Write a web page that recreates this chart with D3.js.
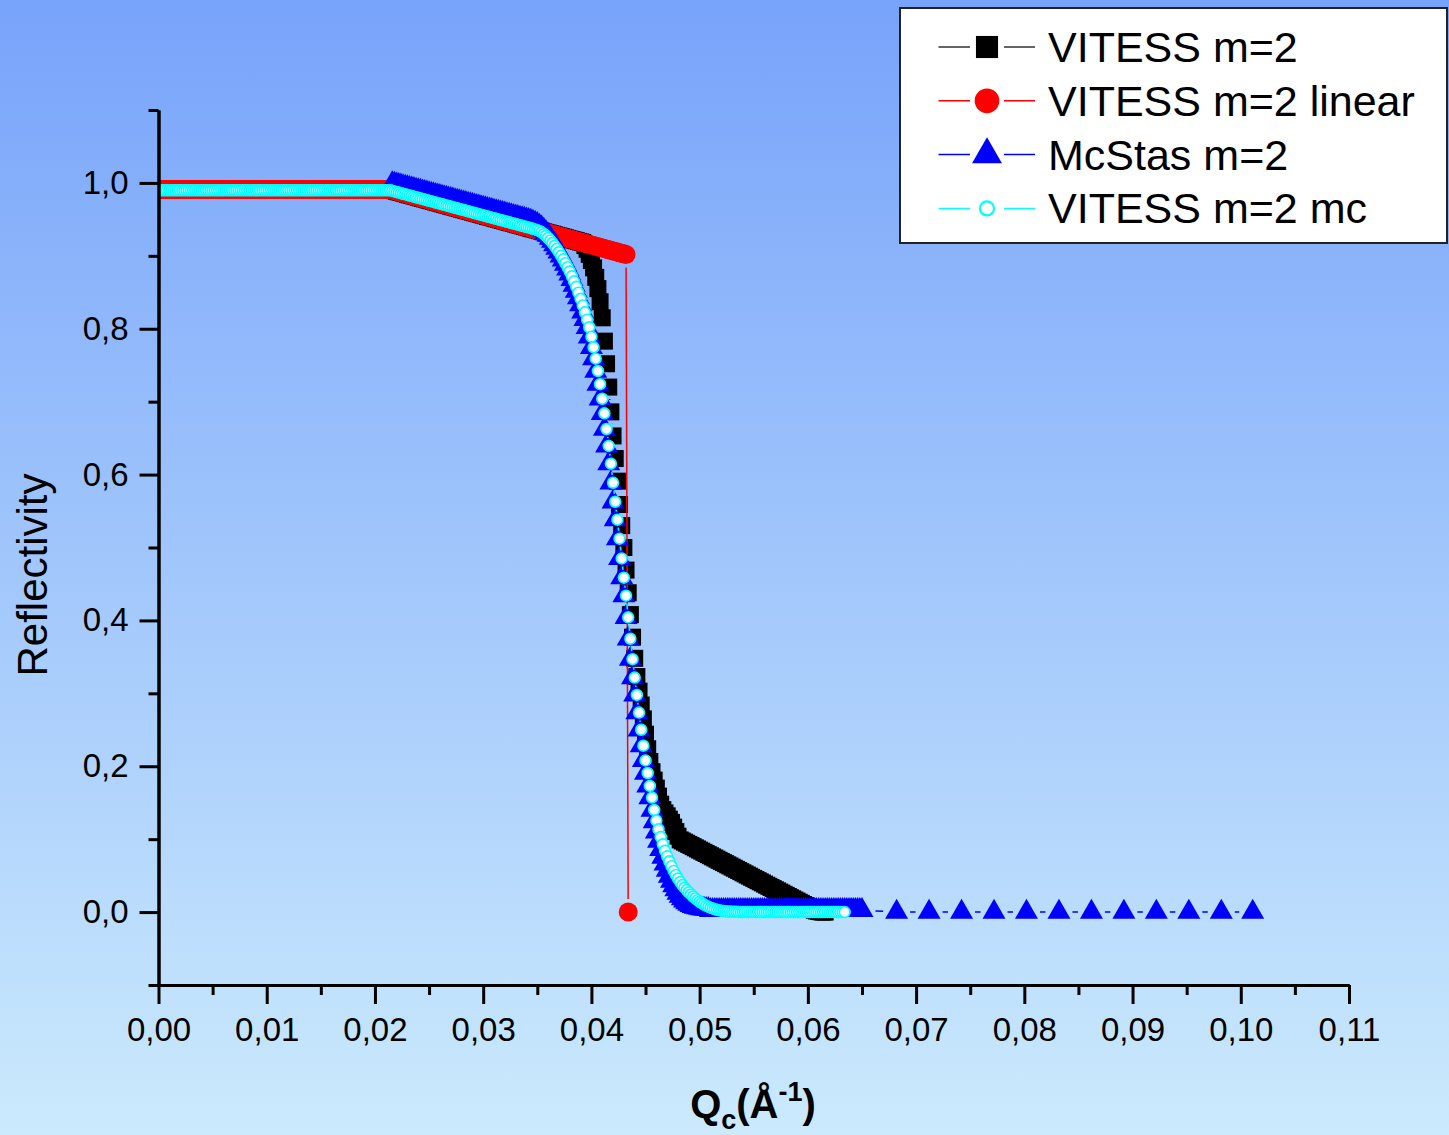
<!DOCTYPE html>
<html>
<head>
<meta charset="utf-8">
<script src="https://cdn.jsdelivr.net/npm/d3@7"></script>
<style>
  html, body { margin: 0; padding: 0; background: #ffffff; }
  svg { display: block; }
</style>
</head>
<body>
<svg id="chart" width="1449" height="1135"></svg>
<script>
// ---------------------------------------------------------------
// Reflectivity curves of an m=2 supermirror, Qc in 1/Å
// ---------------------------------------------------------------

// Q grid shared by the dense VITESS curves (Å^-1)
const qGrid = [
  0.0000,0.0002,0.0004,0.0006,0.0008,0.0010,0.0012,0.0014,0.0016,0.0018,
  0.0020,0.0022,0.0024,0.0026,0.0028,0.0030,0.0032,0.0034,0.0036,0.0038,
  0.0040,0.0042,0.0044,0.0046,0.0048,0.0050,0.0052,0.0054,0.0056,0.0058,
  0.0060,0.0062,0.0064,0.0066,0.0068,0.0070,0.0072,0.0074,0.0076,0.0078,
  0.0080,0.0082,0.0084,0.0086,0.0088,0.0090,0.0092,0.0094,0.0096,0.0098,
  0.0100,0.0102,0.0104,0.0106,0.0108,0.0110,0.0112,0.0114,0.0116,0.0118,
  0.0120,0.0122,0.0124,0.0126,0.0128,0.0130,0.0132,0.0134,0.0136,0.0138,
  0.0140,0.0142,0.0144,0.0146,0.0148,0.0150,0.0152,0.0154,0.0156,0.0158,
  0.0160,0.0162,0.0164,0.0166,0.0168,0.0170,0.0172,0.0174,0.0176,0.0178,
  0.0180,0.0182,0.0184,0.0186,0.0188,0.0190,0.0192,0.0194,0.0196,0.0198,
  0.0200,0.0202,0.0204,0.0206,0.0208,0.0210,0.0212,0.0214,0.0216,0.0218,
  0.0220,0.0222,0.0224,0.0226,0.0228,0.0230,0.0232,0.0234,0.0236,0.0238,
  0.0240,0.0242,0.0244,0.0246,0.0248,0.0250,0.0252,0.0254,0.0256,0.0258,
  0.0260,0.0262,0.0264,0.0266,0.0268,0.0270,0.0272,0.0274,0.0276,0.0278,
  0.0280,0.0282,0.0284,0.0286,0.0288,0.0290,0.0292,0.0294,0.0296,0.0298,
  0.0300,0.0302,0.0304,0.0306,0.0308,0.0310,0.0312,0.0314,0.0316,0.0318,
  0.0320,0.0322,0.0324,0.0326,0.0328,0.0330,0.0332,0.0334,0.0336,0.0338,
  0.0340,0.0342,0.0344,0.0346,0.0348,0.0350,0.0352,0.0354,0.0356,0.0358,
  0.0360,0.0362,0.0364,0.0366,0.0368,0.0370,0.0372,0.0374,0.0376,0.0378,
  0.0380,0.0382,0.0384,0.0386,0.0388,0.0390,0.0392,0.0394,0.0396,0.0398,
  0.0400,0.0402,0.0404,0.0406,0.0408,0.0410,0.0412,0.0414,0.0416,0.0418,
  0.0420,0.0422,0.0424,0.0426,0.0428,0.0430,0.0432,0.0434,0.0436,0.0438,
  0.0440,0.0442,0.0444,0.0446,0.0448,0.0450,0.0452,0.0454,0.0456,0.0458,
  0.0460,0.0462,0.0464,0.0466,0.0468,0.0470,0.0472,0.0474,0.0476,0.0478,
  0.0480,0.0482,0.0484,0.0486,0.0488,0.0490,0.0492,0.0494,0.0496,0.0498,
  0.0500,0.0502,0.0504,0.0506,0.0508,0.0510,0.0512,0.0514,0.0516,0.0518,
  0.0520,0.0522,0.0524,0.0526,0.0528,0.0530,0.0532,0.0534,0.0536,0.0538,
  0.0540,0.0542,0.0544,0.0546,0.0548,0.0550,0.0552,0.0554,0.0556,0.0558,
  0.0560,0.0562,0.0564,0.0566,0.0568,0.0570,0.0572,0.0574,0.0576,0.0578,
  0.0580,0.0582,0.0584,0.0586,0.0588,0.0590,0.0592,0.0594,0.0596,0.0598,
  0.0600,0.0602,0.0604,0.0606,0.0608,0.0610,0.0612,0.0614,0.0616,0.0618,
  0.0620,0.0622,0.0624,0.0626,0.0628,0.0630,0.0632,0.0634
];

// VITESS m=2 (black squares)
const rVitess = [
  0.991,0.991,0.991,0.991,0.991,0.991,0.991,0.991,0.991,0.991,0.991,0.991,
  0.991,0.991,0.991,0.991,0.991,0.991,0.991,0.991,0.991,0.991,0.991,0.991,
  0.991,0.991,0.991,0.991,0.991,0.991,0.991,0.991,0.991,0.991,0.991,0.991,
  0.991,0.991,0.991,0.991,0.991,0.991,0.991,0.991,0.991,0.991,0.991,0.991,
  0.991,0.991,0.991,0.991,0.991,0.991,0.991,0.991,0.991,0.991,0.991,0.991,
  0.991,0.991,0.991,0.991,0.991,0.991,0.991,0.991,0.991,0.991,0.991,0.991,
  0.991,0.991,0.991,0.991,0.991,0.991,0.991,0.991,0.991,0.991,0.991,0.991,
  0.991,0.991,0.991,0.991,0.991,0.991,0.991,0.991,0.991,0.991,0.991,0.991,
  0.991,0.991,0.991,0.991,0.991,0.991,0.991,0.991,0.991,0.991,0.991,0.991,
  0.9902,0.9894,0.9885,0.9877,0.9869,0.9861,0.9853,0.9845,0.9836,0.9828,
  0.9820,0.9812,0.9804,0.9795,0.9787,0.9779,0.9771,0.9763,0.9755,0.9746,
  0.9738,0.9730,0.9722,0.9714,0.9706,0.9697,0.9689,0.9681,0.9673,0.9665,
  0.9656,0.9648,0.9640,0.9632,0.9624,0.9616,0.9607,0.9599,0.9591,0.9583,
  0.9575,0.9566,0.9558,0.9550,0.9542,0.9534,0.9526,0.9517,0.9509,0.9501,
  0.9493,0.9485,0.9477,0.9468,0.9460,0.9452,0.9444,0.9436,0.9427,0.9419,
  0.9411,0.9403,0.9395,0.9387,0.9378,0.9370,0.9362,0.9354,0.9346,0.9338,
  0.9329,0.9321,0.9313,0.9305,0.9297,0.9288,0.9280,0.9272,0.9264,0.9256,
  0.9248,0.9239,0.9231,0.9223,0.9215,0.9207,0.9198,0.9190,0.9182,
  0.9140,0.9090,0.9020,0.8935,0.8835,0.8705,0.8550,0.8370,0.8150,
  0.7830,0.7520,0.7200,0.6860,0.6530,0.6220,0.5910,0.5590,0.5300,0.5000,
  0.4690,0.4380,0.4080,0.3770,0.3480,0.3230,0.3030,0.2840,0.2650,0.2440,
  0.2240,0.2065,0.1925,0.1810,0.1700,0.1590,0.1480,0.1405,0.1360,0.1320,
  0.1275,0.1230,0.1166,0.1104,0.1041,0.0990,0.0975,0.0959,0.0944,0.0928,
  0.0913,0.0897,0.0881,0.0866,0.0850,0.0835,0.0819,0.0804,0.0788,0.0773,
  0.0757,0.0742,0.0726,0.0710,0.0695,0.0679,0.0664,0.0648,0.0633,0.0617,
  0.0602,0.0586,0.0571,0.0555,0.0539,0.0524,0.0508,0.0493,0.0477,0.0462,
  0.0446,0.0431,0.0415,0.0400,0.0384,0.0368,0.0353,0.0337,0.0322,0.0306,
  0.0291,0.0275,0.0260,0.0244,0.0229,0.0213,0.0197,0.0182,0.0166,0.0151,
  0.0135,0.0120,0.0104,0.0089,0.0073,0.0058,0.0040,0.0025,0.0015,0.0008,
  0.0004,0.0000,0.0000
];

// VITESS m=2 linear (red circles); the last point closes the curve at R = 0
const rLinear = [
  0.991,0.991,0.991,0.991,0.991,0.991,0.991,0.991,0.991,0.991,0.991,0.991,
  0.991,0.991,0.991,0.991,0.991,0.991,0.991,0.991,0.991,0.991,0.991,0.991,
  0.991,0.991,0.991,0.991,0.991,0.991,0.991,0.991,0.991,0.991,0.991,0.991,
  0.991,0.991,0.991,0.991,0.991,0.991,0.991,0.991,0.991,0.991,0.991,0.991,
  0.991,0.991,0.991,0.991,0.991,0.991,0.991,0.991,0.991,0.991,0.991,0.991,
  0.991,0.991,0.991,0.991,0.991,0.991,0.991,0.991,0.991,0.991,0.991,0.991,
  0.991,0.991,0.991,0.991,0.991,0.991,0.991,0.991,0.991,0.991,0.991,0.991,
  0.991,0.991,0.991,0.991,0.991,0.991,0.991,0.991,0.991,0.991,0.991,0.991,
  0.991,0.991,0.991,0.991,0.991,0.991,0.991,0.991,0.991,0.991,0.991,0.991,
  0.9902,0.9894,0.9885,0.9877,0.9869,0.9861,0.9853,0.9845,0.9836,0.9828,
  0.9820,0.9812,0.9804,0.9795,0.9787,0.9779,0.9771,0.9763,0.9755,0.9746,
  0.9738,0.9730,0.9722,0.9714,0.9706,0.9697,0.9689,0.9681,0.9673,0.9665,
  0.9656,0.9648,0.9640,0.9632,0.9624,0.9616,0.9607,0.9599,0.9591,0.9583,
  0.9575,0.9566,0.9558,0.9550,0.9542,0.9534,0.9526,0.9517,0.9509,0.9501,
  0.9493,0.9485,0.9477,0.9468,0.9460,0.9452,0.9444,0.9436,0.9427,0.9419,
  0.9411,0.9403,0.9395,0.9387,0.9378,0.9370,0.9362,0.9354,0.9346,0.9338,
  0.9329,0.9321,0.9313,0.9305,0.9297,0.9288,0.9280,0.9272,0.9264,0.9256,
  0.9248,0.9239,0.9231,0.9223,0.9215,0.9207,0.9198,0.9190,0.9182,0.9174,
  0.9166,0.9158,0.9149,0.9141,0.9133,0.9125,0.9117,0.9109,0.9100,0.9092,
  0.9084,0.9076,0.9068,0.9059,0.9051,0.9043,0.9035,0.9027,0.9019,
  0.0000
];

// VITESS m=2 mc (cyan open circles)
const rMc = [
  0.990,0.990,0.990,0.990,0.990,0.990,0.990,0.990,0.990,0.990,0.990,0.990,
  0.990,0.990,0.990,0.990,0.990,0.990,0.990,0.990,0.990,0.990,0.990,0.990,
  0.990,0.990,0.990,0.990,0.990,0.990,0.990,0.990,0.990,0.990,0.990,0.990,
  0.990,0.990,0.990,0.990,0.990,0.990,0.990,0.990,0.990,0.990,0.990,0.990,
  0.990,0.990,0.990,0.990,0.990,0.990,0.990,0.990,0.990,0.990,0.990,0.990,
  0.990,0.990,0.990,0.990,0.990,0.990,0.990,0.990,0.990,0.990,0.990,0.990,
  0.990,0.990,0.990,0.990,0.990,0.990,0.990,0.990,0.990,0.990,0.990,0.990,
  0.990,0.990,0.990,0.990,0.990,0.990,0.990,0.990,0.990,0.990,0.990,0.990,
  0.990,0.990,0.990,0.990,0.990,0.990,0.990,0.990,0.990,0.990,0.990,0.990,
  0.9892,0.9884,0.9876,0.9868,0.9860,0.9852,0.9844,0.9836,0.9828,0.9820,
  0.9812,0.9804,0.9796,0.9788,0.9780,0.9772,0.9764,0.9756,0.9748,0.9740,
  0.9732,0.9724,0.9716,0.9708,0.9700,0.9692,0.9684,0.9676,0.9668,0.9660,
  0.9652,0.9644,0.9636,0.9628,0.9620,0.9612,0.9604,0.9596,0.9588,0.9580,
  0.9572,0.9564,0.9556,0.9548,0.9540,0.9532,0.9524,0.9516,0.9508,0.9500,
  0.9492,0.9484,0.9476,0.9468,0.9460,0.9452,0.9444,0.9436,0.9428,0.9420,
  0.9412,0.9404,0.9396,0.9388,
  0.9379,0.9370,0.9362,0.9352,0.9340,0.9322,
  0.9300,0.9275,0.9245,0.9212,0.9176,0.9137,0.9095,0.9050,0.9002,0.8952,
  0.8900,0.8845,0.8785,0.8720,0.8650,0.8575,0.8495,0.8410,0.8320,0.8225,
  0.8125,0.8020,0.7890,0.7745,0.7590,0.7420,0.7240,0.7040,0.6840,0.6625,
  0.6393,0.6150,0.5888,0.5627,0.5382,0.5121,0.4850,0.4586,0.4339,0.4042,
  0.3748,0.3469,0.3216,0.2978,0.2736,0.2500,0.2282,0.2080,0.1907,0.1730,
  0.1570,0.1400,0.1255,0.1135,0.1030,0.0930,0.0842,0.0765,0.0697,0.0630,
  0.0565,0.0510,0.0460,0.0413,0.0372,0.0335,0.0302,0.0271,0.0242,0.0214,
  0.0188,0.0164,0.0142,0.0122,0.0104,0.0088,0.0074,0.0061,0.0050,0.0040,
  0.0032,0.0025,0.0019,0.0015,0.0012,0.0009,0.0007,0.0005,0.0004,0.0003,
  0.0002,0.0002,0.0001,
  0,0,0,0,0,0,0,0,0,0,0,0,
  0,0,0,0,0,0,0,0,0,0,0,0,
  0,0,0,0,0,0,0,0,0,0,0,0,
  0,0,0,0,0,0,0,0,0,0,0
];

// McStas m=2 (blue triangles): dense part, then the coarse tail
const qMcstas = [
  0.0216,0.0218,
  0.0220,0.0222,0.0224,0.0226,0.0228,0.0230,0.0232,0.0234,0.0236,0.0238,
  0.0240,0.0242,0.0244,0.0246,0.0248,0.0250,0.0252,0.0254,0.0256,0.0258,
  0.0260,0.0262,0.0264,0.0266,0.0268,0.0270,0.0272,0.0274,0.0276,0.0278,
  0.0280,0.0282,0.0284,0.0286,0.0288,0.0290,0.0292,0.0294,0.0296,0.0298,
  0.0300,0.0302,0.0304,0.0306,0.0308,0.0310,0.0312,0.0314,0.0316,0.0318,
  0.0320,0.0322,0.0324,0.0326,0.0328,0.0330,0.0332,0.0334,0.0336,0.0338,
  0.0340,0.0342,0.0344,0.0346,0.0348,0.0350,0.0352,0.0354,0.0356,0.0358,
  0.0360,0.0362,0.0364,0.0366,0.0368,0.0370,0.0372,0.0374,0.0376,0.0378,
  0.0380,0.0382,0.0384,0.0386,0.0388,0.0390,0.0392,0.0394,0.0396,0.0398,
  0.0400,0.0402,0.0404,0.0406,0.0408,0.0410,0.0412,0.0414,0.0416,0.0418,
  0.0420,0.0422,0.0424,0.0426,0.0428,0.0430,0.0432,0.0434,0.0436,0.0438,
  0.0440,0.0442,0.0444,0.0446,0.0448,0.0450,0.0452,0.0454,0.0456,0.0458,
  0.0460,0.0462,0.0464,0.0466,0.0468,0.0470,0.0472,0.0474,0.0476,0.0478,
  0.0480,0.0482,0.0484,0.0486,0.0488,0.0490,0.0492,0.0494,0.0496,0.0498,
  0.0500,0.0502,0.0504,0.0506,0.0508,0.0510,0.0512,0.0514,0.0516,0.0518,
  0.0520,0.0522,0.0524,0.0526,0.0528,0.0530,0.0532,0.0534,0.0536,0.0538,
  0.0540,0.0542,0.0544,0.0546,0.0548,0.0550,0.0552,0.0554,0.0556,0.0558,
  0.0560,0.0562,0.0564,0.0566,0.0568,0.0570,0.0572,0.0574,0.0576,0.0578,
  0.0580,0.0582,0.0584,0.0586,0.0588,0.0590,0.0592,0.0594,0.0596,0.0598,
  0.0600,0.0602,0.0604,0.0606,0.0608,0.0610,0.0612,0.0614,0.0616,0.0618,
  0.0620,0.0622,0.0624,0.0626,0.0628,0.0630,0.0632,0.0634,0.0636,0.0638,
  0.0640,0.0642,0.0644,0.0646,0.0648,0.0650,
  0.0682,0.0712,0.0742,0.0772,0.0802,0.0832,0.0862,0.0892,0.0922,0.0952,
  0.0982,0.1011
];
const rMcstas = [
  0.9992,0.9984,0.9976,0.9968,0.9960,0.9952,0.9944,0.9936,0.9928,0.9920,
  0.9912,0.9904,0.9896,0.9888,0.9880,0.9872,0.9864,0.9856,0.9848,0.9840,
  0.9832,0.9824,0.9816,0.9808,0.9800,0.9792,0.9784,0.9776,0.9768,0.9760,
  0.9752,0.9744,0.9736,0.9728,0.9720,0.9712,0.9704,0.9696,0.9688,0.9680,
  0.9672,0.9664,0.9656,0.9648,0.9640,0.9632,0.9624,0.9616,0.9608,0.9600,
  0.9592,0.9584,0.9576,0.9568,0.9560,0.9552,0.9544,0.9536,0.9528,0.9520,
  0.9512,0.9504,0.9496,0.9488,
  0.9478,0.9465,0.9450,0.9432,0.9410,0.9384,
  0.9355,0.9321,0.9284,0.9244,0.9201,0.9155,0.9106,0.9054,0.9000,0.8944,
  0.8885,0.8821,0.8752,0.8678,0.8599,0.8515,0.8426,0.8332,0.8233,0.8129,
  0.8020,0.7890,0.7745,0.7590,0.7420,0.7240,0.7040,0.6840,0.6625,0.6393,
  0.6150,0.5888,0.5627,0.5382,0.5121,0.4850,0.4586,0.4339,0.4042,0.3748,
  0.3469,0.3216,0.2978,0.2736,0.2500,0.2282,0.2080,0.1907,0.1730,0.1570,
  0.1400,0.1240,0.1100,0.0975,0.0860,0.0755,0.0660,0.0575,0.0495,0.0425,
  0.0362,0.0308,0.0260,0.0220,0.0185,0.0155,0.0130,0.0110,0.0093,0.0080,
  0.0069,0.0060,0.0053,0.0047,0.0043,0.0040,0.0037,
  0.0025,0.0025,0.0025,0.0025,0.0025,0.0025,0.0025,0.0025,0.0025,0.0025,0.0025,0.0025,
  0.0025,0.0025,0.0025,0.0025,0.0025,0.0025,0.0025,0.0025,0.0025,0.0025,0.0025,0.0025,
  0.0025,0.0025,0.0025,0.0025,0.0025,0.0025,0.0025,0.0025,0.0025,0.0025,0.0025,0.0025,
  0.0025,0.0025,0.0025,0.0025,0.0025,0.0025,0.0025,0.0025,0.0025,0.0025,0.0025,0.0025,
  0.0025,0.0025,0.0025,0.0025,0.0025,0.0025,0.0025,0.0025,0.0025,0.0025,0.0025,0.0025,
  0.0025,0.0025,0.0025,0.0025,0.0025,0.0025,0.0025,0.0025,0.0025,0.0025,0.0025,
  0,0,0,0,0,0,0,0,0,0,0,0
];

// Axis ticks and labels
const xMajorTicks = [0,0.01,0.02,0.03,0.04,0.05,0.06,0.07,0.08,0.09,0.10,0.11];
const xMinorTicks = [0.005,0.015,0.025,0.035,0.045,0.055,0.065,0.075,0.085,0.095,0.105];
const yMajorTicks = [0,0.2,0.4,0.6,0.8,1.0];
const yMinorTicks = [-0.1,0.1,0.3,0.5,0.7,0.9,1.1];
const seriesNames = ["VITESS m=2","VITESS m=2 linear","McStas m=2","VITESS m=2 mc"];

// ---------------------------------------------------------------
const W = 1449, H = 1135;
const FONT = '"Liberation Sans", Arial, Helvetica, sans-serif';
const svg = d3.select("#chart");

// sky-blue vertical backdrop
const defs = svg.append("defs");
const grad = defs.append("linearGradient").attr("id", "bgGrad")
  .attr("x1", 0).attr("y1", 0).attr("x2", 0).attr("y2", 1);
grad.append("stop").attr("offset", "0%").attr("stop-color", "#78a3fa");
grad.append("stop").attr("offset", "100%").attr("stop-color", "#cbeafd");
svg.append("rect").attr("width", W).attr("height", H).attr("fill", "url(#bgGrad)");

const x = d3.scaleLinear().domain([0, 0.11]).range([158.5, 1349]);
const y = d3.scaleLinear().domain([-0.1, 1.1]).range([985, 110]);

// data are clipped to the right of the Reflectivity axis
defs.append("clipPath").attr("id", "plotClip")
  .append("rect").attr("x", x(0)).attr("y", 0)
  .attr("width", W - x(0)).attr("height", y(-0.1));

const commaFmt = f => v => d3.format(f)(v).replace(".", ",");

function styleAxis(g) {
  g.selectAll("line, path").attr("stroke", "#000").attr("stroke-width", 3);
  g.selectAll("text").attr("fill", "#000").attr("font-size", 33).attr("font-family", FONT);
}

// ---------------------------------------------------------------
// series: connecting line broken around every symbol, then the symbols
const seriesList = [
  { name: seriesNames[0], q: qGrid,   r: rVitess, color: "#000000", marker: "square",   gap: 12 },
  { name: seriesNames[1], q: qGrid,   r: rLinear, color: "#ff0000", marker: "disc",     gap: 13 },
  { name: seriesNames[2], q: qMcstas, r: rMcstas, color: "#0000ff", marker: "triangle", gap: 13.5 },
  { name: seriesNames[3], q: qGrid,   r: rMc,     color: "#00ffff", marker: "ring",     gap: 8 }
];

function gapPath(pts, gap) {
  let d = "";
  for (let i = 1; i < pts.length; i++) {
    const [x1, y1] = pts[i - 1], [x2, y2] = pts[i];
    const dx = x2 - x1, dy = y2 - y1, L = Math.hypot(dx, dy);
    if (L > 2 * gap) {
      const ux = dx / L, uy = dy / L;
      d += `M${x1 + ux * gap},${y1 + uy * gap}L${x2 - ux * gap},${y2 - uy * gap}`;
    }
  }
  return d;
}

function drawMarkers(g, pts, s, scale) {
  const k = scale || 1;
  if (s.marker === "square") {
    const sym = d3.symbol().type(d3.symbolSquare).size(Math.pow(17 * k, 2));
    g.selectAll("path.m").data(pts).join("path").attr("class", "m")
      .attr("d", sym).attr("transform", p => `translate(${p[0]},${p[1]})`)
      .attr("fill", s.color);
  } else if (s.marker === "triangle") {
    const side = 23 * k;
    const sym = d3.symbol().type(d3.symbolTriangle).size(Math.sqrt(3) / 4 * side * side);
    g.selectAll("path.m").data(pts).join("path").attr("class", "m")
      .attr("d", sym).attr("transform", p => `translate(${p[0]},${p[1]})`)
      .attr("fill", s.color);
  } else if (s.marker === "disc") {
    g.selectAll("circle.m").data(pts).join("circle").attr("class", "m")
      .attr("cx", p => p[0]).attr("cy", p => p[1]).attr("r", 9.5 * k)
      .attr("fill", s.color);
  } else {
    g.selectAll("circle.m").data(pts).join("circle").attr("class", "m")
      .attr("cx", p => p[0]).attr("cy", p => p[1]).attr("r", 5.4 * k)
      .attr("fill", "#ffffff").attr("stroke", s.color).attr("stroke-width", 1.7 * k);
  }
}

const plot = svg.append("g").attr("clip-path", "url(#plotClip)");
seriesList.forEach(s => {
  const pts = s.r.map((v, i) => [x(s.q[i]), y(v)]);
  const g = plot.append("g");
  g.append("path").attr("d", gapPath(pts, s.gap))
    .attr("fill", "none").attr("stroke", s.color).attr("stroke-width", 1.5);
  drawMarkers(g, pts, s, 1);
});

// ---------------------------------------------------------------
// axes on top of the data
svg.append("g").attr("transform", `translate(0,${y(-0.1)})`)
  .call(d3.axisBottom(x).tickValues(xMinorTicks).tickSize(10).tickSizeOuter(0).tickFormat(""))
  .call(styleAxis);
svg.append("g").attr("transform", `translate(0,${y(-0.1)})`)
  .call(d3.axisBottom(x).tickValues(xMajorTicks).tickSize(19).tickSizeOuter(0)
        .tickPadding(14).tickFormat(commaFmt(".2f")))
  .call(styleAxis);

svg.append("g").attr("transform", `translate(${x(0)},0)`)
  .call(d3.axisLeft(y).tickValues(yMinorTicks).tickSize(10).tickSizeOuter(0).tickFormat(""))
  .call(styleAxis);
svg.append("g").attr("transform", `translate(${x(0)},0)`)
  .call(d3.axisLeft(y).tickValues(yMajorTicks).tickSize(19).tickSizeOuter(0)
        .tickPadding(11).tickFormat(commaFmt(".1f")))
  .call(styleAxis);

// axis titles
svg.append("text")
  .attr("transform", "translate(47,575) rotate(-90)")
  .attr("text-anchor", "middle")
  .attr("font-family", FONT).attr("font-size", 42).attr("fill", "#000")
  .text("Reflectivity");

const xt = svg.append("text")
  .attr("x", 753).attr("y", 1118)
  .attr("text-anchor", "middle")
  .attr("font-family", FONT).attr("font-size", 40).attr("font-weight", "bold").attr("fill", "#000");
xt.append("tspan").text("Q");
xt.append("tspan").attr("dy", 11).attr("font-size", 27).text("c");
xt.append("tspan").attr("dy", -11).text("(Å");
xt.append("tspan").attr("dy", -17).attr("font-size", 27).text("-1");
xt.append("tspan").attr("dy", 17).text(")");

// ---------------------------------------------------------------
// legend
const legend = svg.append("g");
legend.append("rect").attr("x", 900).attr("y", 8).attr("width", 547).attr("height", 235)
  .attr("fill", "#ffffff").attr("stroke", "#222").attr("stroke-width", 2);
seriesList.forEach((s, i) => {
  const cy = 47 + i * 53.8;
  const row = legend.append("g");
  row.append("path").attr("d", `M938.5,${cy}H970M1004,${cy}H1035`)
    .attr("stroke", s.color === "#000000" ? "#333" : s.color).attr("stroke-width", 1.5);
  drawMarkers(row, [[987, cy]], s, 1.3);
  row.append("text").attr("x", 1048).attr("y", cy + 15)
    .attr("font-family", FONT).attr("font-size", 43).attr("fill", "#000")
    .text(s.name);
});
</script>
</body>
</html>
